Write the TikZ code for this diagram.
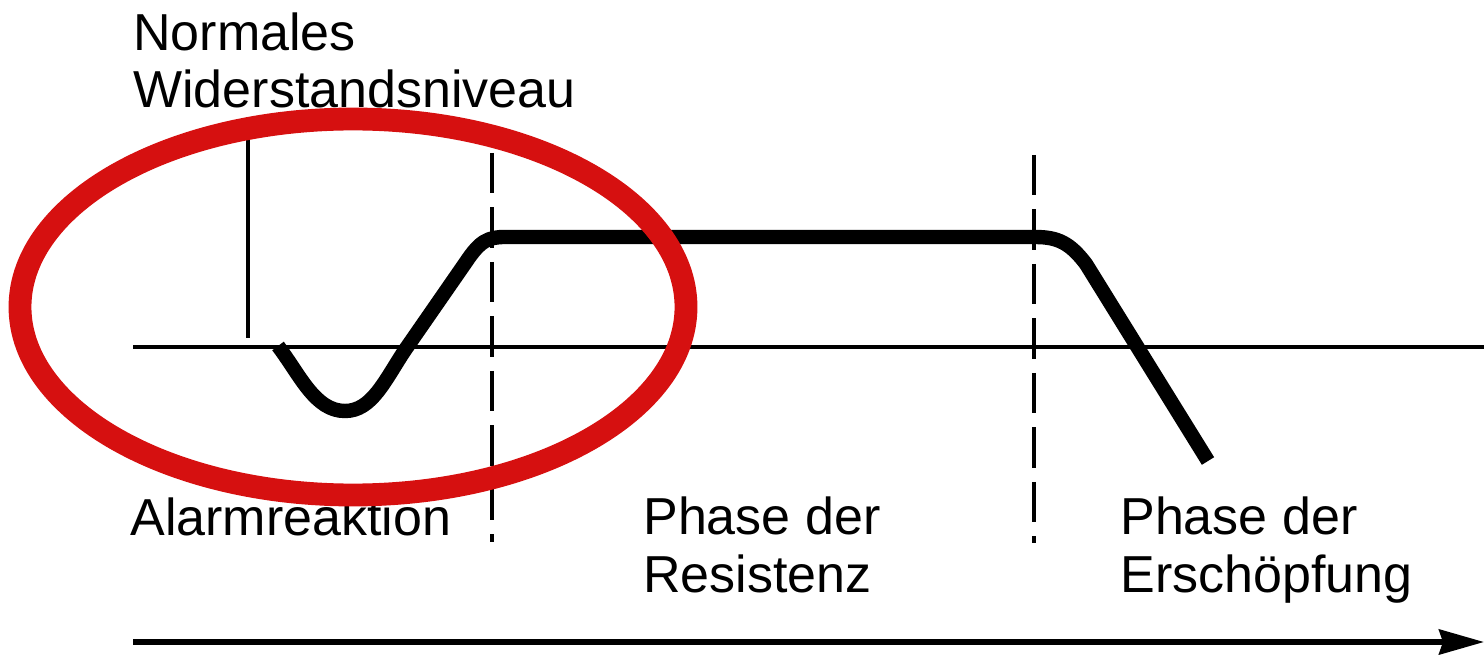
\documentclass[tikz,border=0pt]{standalone}
\usepackage{fontspec}
\setmainfont{Liberation Sans}
\usepackage{tikz}
\usetikzlibrary{positioning, arrows.meta, calc}
\definecolor{markred}{RGB}{214,16,16}

\begin{document}
\begin{tikzpicture}[x=0.02cm, y=0.02cm,
		label/.style={anchor=base west, inner sep=0pt, font=\fontsize{29.6}{33}\selectfont, align=left},
		phaseline/.style={line width=1.8pt, dash pattern=on 23pt off 8pt},
		stresscurve/.style={line width=8.2pt, line join=round}]
		
		\useasboundingbox (0,0) rectangle (1484,-655);
		
		% Texts (base = last line)
		\node[label] (norm) at (133,-108) {Normales\\Widerstandsniveau};
		\node[label] (alarm) at (130,-535) {Alarmreaktion};
		\node[label] (resist) at (643,-592) {Phase der\\Resistenz};
		\node[label] (exhaust) at (1120,-592) {Phase der\\Erschöpfung};
		
		% Axes and phase borders
		\draw[line width=1.8pt] (248,-138) -- (248,-338);
		\draw[line width=2.4pt] (133,-347) -- (1484,-347);
		\draw[phaseline] (492,-153) -- (492,-542);
		\draw[phaseline] (1034,-155) -- (1034,-543);
		
		% Resistance curve
		\draw[stresscurve] (278,-346) .. controls (300,-375) and (315,-411) .. (345,-411)
		.. controls (372,-411) and (385,-380) .. (405,-350) -- (466,-262)
		.. controls (480,-241) and (488,-237) .. (505,-237) -- (1035,-237)
		.. controls (1058,-237) and (1070,-243) .. (1086,-264) -- (1208,-461);
		
		% Time arrow
		\coordinate (t0) at (133,-642);
		\coordinate (t1) at (1484,-642);
		\draw[-{Stealth[length=0.9cm, width=0.5cm, inset=0.08cm]}, line width=3pt] (t0) -- (t1);
		
		% Marker
		\draw[markred, line width=13pt] (353,-307) ellipse (333 and 188);
		
	\end{tikzpicture}
\end{document}
